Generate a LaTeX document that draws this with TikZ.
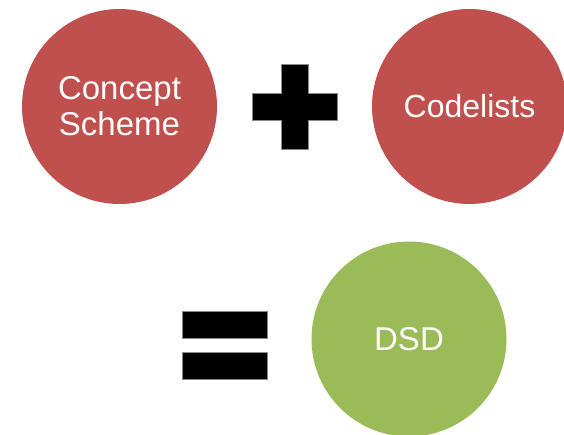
\documentclass[tikz,border=0pt]{standalone}
\usepackage{fontspec}
\setmainfont{Liberation Sans}
\definecolor{setred}{HTML}{C0504D}
\definecolor{setgreen}{HTML}{9BBB59}
\definecolor{signedge}{HTML}{8A8A8A}
\begin{document}
\begin{tikzpicture}[x=1pt,y=-1pt,
  bubble/.style={circle,minimum size=195pt,inner sep=0pt,text=white,align=center,
    font=\fontsize{33}{36}\selectfont},
  redbubble/.style={bubble,fill=setred},
  greenbubble/.style={bubble,fill=setgreen},
  sign/.style={fill=black,draw=signedge,line width=0.4pt}]
  \useasboundingbox (0,0) rectangle (564,434);
  \clip (0,0) rectangle (564,434);
  % the three sets
  \node[redbubble] (concept) at (119.5,106.5) {Concept\\Scheme};
  \node[redbubble] (codelists) at (469.5,106.5) {\fontsize{32}{36}\selectfont Codelists};
  \node[greenbubble] (dsd) at (409,339) {DSD};
  % plus sign
  \draw[sign] (281,64) -- (308.5,64) -- (308.5,93.5) -- (337.5,93.5) -- (337.5,120.5)
    -- (308.5,120.5) -- (308.5,149.5) -- (281,149.5) -- (281,120.5) -- (252,120.5)
    -- (252,93.5) -- (281,93.5) -- cycle;
  % equals sign
  \draw[sign] (182,311) rectangle (267.5,338.5);
  \draw[sign] (182,352.5) rectangle (267.5,379.5);
\end{tikzpicture}
\end{document}
